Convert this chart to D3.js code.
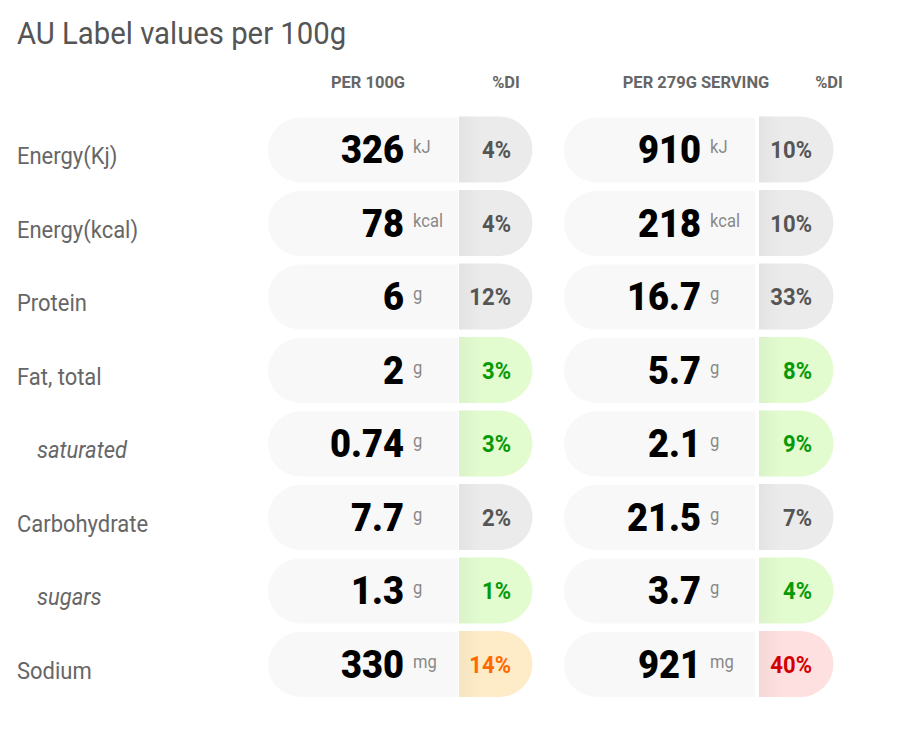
<!DOCTYPE html>
<html>
<head>
<meta charset="utf-8">
<script src="https://cdn.jsdelivr.net/npm/d3@7/dist/d3.min.js"></script>
<style>
  html, body { margin: 0; padding: 0; background: #fff; }
  svg { display: block; }
  text { font-family: Roboto, "Noto Sans", sans-serif; }
</style>
</head>
<body>
<div id="chart"></div>
<script>
// ---- data ----
const title = "AU Label values per 100g";
const columnHeaders = ["PER 100G", "%DI", "PER 279G SERVING", "%DI"];
const nutrients = ["Energy(Kj)", "Energy(kcal)", "Protein", "Fat, total", "saturated", "Carbohydrate", "sugars", "Sodium"];
const isSubItem = [false, false, false, false, true, false, true, false];
const units = ["kJ", "kcal", "g", "g", "g", "g", "g", "mg"];
const per100Values = ["326", "78", "6", "2", "0.74", "7.7", "1.3", "330"];
const per100DI = [4, 4, 12, 3, 3, 2, 1, 14];
const per100Level = ["neutral", "neutral", "neutral", "low", "low", "neutral", "low", "medium"];
const servingValues = ["910", "218", "16.7", "5.7", "2.1", "21.5", "3.7", "921"];
const servingDI = [10, 10, 33, 8, 9, 7, 4, 40];
const servingLevel = ["neutral", "neutral", "neutral", "low", "low", "neutral", "low", "high"];

// ---- styles ----
const W = 908, H = 732;
const levelFill = { neutral: "#ebebeb", low: "#e2fbcf", medium: "#feecc8", high: "#fde0df" };
const levelText = { neutral: "#555555", low: "#069a06", medium: "#ff6a00", high: "#d40000" };

const svg = d3.select("#chart").append("svg").attr("width", W).attr("height", H);
const defs = svg.append("defs");
const grad = defs.append("linearGradient").attr("id", "diShade").attr("x1", "0").attr("x2", "1").attr("y1", "0").attr("y2", "0");
grad.append("stop").attr("offset", "0").attr("stop-color", "#000").attr("stop-opacity", 0.035);
grad.append("stop").attr("offset", "0.3").attr("stop-color", "#000").attr("stop-opacity", 0);

function ctext(g, x, y, str, opts) {
  return g.append("text")
    .attr("transform", `translate(${x},${y}) scale(${opts.sx},1)`)
    .attr("text-anchor", opts.anchor || "start")
    .attr("font-size", opts.size)
    .attr("font-weight", opts.weight || 400)
    .attr("font-style", opts.italic ? "italic" : "normal")
    .attr("fill", opts.fill)
    .text(str);
}

// title
ctext(svg, 17, 44, title, { size: 31, fill: "#555", sx: 0.945 });

// rows scale
const y = d3.scalePoint().domain(nutrients).range([150, 664.5]);
const pillH = 65, r = pillH / 2;

// column layout
const cols = [
  { x0: 268, x1: 458, d0: 459, d1: 532, values: per100Values, di: per100DI, level: per100Level },
  { x0: 564, x1: 755, d0: 759, d1: 833, values: servingValues, di: servingDI, level: servingLevel }
];

// headers
const headerX = [368, 506, 696, 829];
columnHeaders.forEach((h, i) => ctext(svg, headerX[i], 88, h, { size: 17, weight: 700, fill: "#666", anchor: "middle", sx: 0.97 }));

// labels
nutrients.forEach((n, i) => {
  ctext(svg, isSubItem[i] ? 37 : 17, y(n) + 14, n, { size: 24, fill: "#666", italic: isSubItem[i], sx: 0.915 });
});

cols.forEach(c => {
  const g = svg.append("g");
  nutrients.forEach((n, i) => {
    const cy = y(n), top = cy - pillH / 2, bot = cy + pillH / 2;
    // value pill (rounded left)
    g.append("path")
      .attr("d", `M${c.x1},${top}H${c.x0 + r}A${r},${r} 0 0 0 ${c.x0 + r},${bot}H${c.x1}Z`)
      .attr("fill", "#f8f8f8");
    // DI cell (rounded right)
    const dTop = top - 1;
    const dpath = `M${c.d0},${dTop}H${c.d1 - r}A${r},${r} 0 0 1 ${c.d1 - r},${bot}H${c.d0}Z`;
    g.append("path").attr("d", dpath).attr("fill", levelFill[c.level[i]]);
    g.append("path").attr("d", dpath).attr("fill", "url(#diShade)");
    // value
    const vx = c.x1 - 54;
    ctext(g, vx, cy + 13, c.values[i], { size: 39, weight: 900, fill: "#000", anchor: "end", sx: 0.93 });
    ctext(g, vx + 9, cy + 3, units[i], { size: 18, fill: "#888", sx: 0.92 });
    // DI
    ctext(g, c.d1 - 21, cy + 8, c.di[i] + "%", { size: 23, weight: 700, fill: levelText[c.level[i]], anchor: "end", sx: 0.96 });
  });
});
</script>
</body>
</html>
